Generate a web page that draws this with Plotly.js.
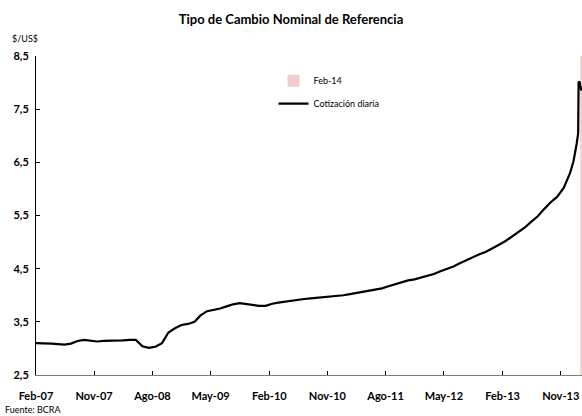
<!DOCTYPE html>
<html>
<head>
<meta charset="utf-8">
<script src="https://cdn.plot.ly/plotly-3.0.1.min.js"></script>
<style>html,body{margin:0;padding:0;background:#fff;}#chart{width:582px;height:416px;}</style>
</head>
<body>
<div id="chart"></div>
<script>
var dates = [
'2007-02-01','2007-03-15','2007-04-15','2007-05-15','2007-06-15','2007-07-15','2007-08-15','2007-09-15','2007-10-15','2007-11-15','2007-12-15',
'2008-01-15','2008-02-15','2008-03-15','2008-04-15','2008-05-15','2008-06-15','2008-07-15','2008-08-15','2008-09-15','2008-10-15','2008-11-15','2008-12-15',
'2009-01-15','2009-02-15','2009-03-15','2009-04-15','2009-05-15','2009-06-15','2009-07-15','2009-08-15','2009-09-15','2009-10-15','2009-11-15','2009-12-15',
'2010-01-15','2010-02-15','2010-03-15','2010-04-15','2010-05-15','2010-06-15','2010-07-15','2010-08-15','2010-09-15','2010-10-15','2010-11-15','2010-12-15',
'2011-01-15','2011-02-15','2011-03-15','2011-04-15','2011-05-15','2011-06-15','2011-07-15','2011-08-15','2011-09-15','2011-10-15','2011-11-15','2011-12-15',
'2012-01-15','2012-02-15','2012-03-15','2012-04-15','2012-05-15','2012-06-15','2012-07-15','2012-08-15','2012-09-15','2012-10-15','2012-11-15','2012-12-15',
'2013-01-15','2013-02-15','2013-03-15','2013-04-15','2013-05-15','2013-06-15','2013-07-15','2013-08-15','2013-09-15','2013-10-15','2013-11-15','2013-12-15',
'2013-12-31','2014-01-15','2014-01-22','2014-01-24','2014-01-28','2014-02-03','2014-02-07'
];
var cotizacion = [
3.10,3.10,3.09,3.08,3.07,3.09,3.14,3.16,3.15,3.13,3.14,
3.14,3.15,3.15,3.16,3.16,3.04,3.01,3.03,3.10,3.30,3.38,3.44,
3.46,3.50,3.62,3.70,3.72,3.75,3.79,3.83,3.85,3.83,3.81,3.80,
3.80,3.84,3.86,3.88,3.90,3.92,3.93,3.94,3.95,3.96,3.97,3.98,
4.00,4.02,4.04,4.06,4.08,4.10,4.13,4.17,4.21,4.24,4.28,4.30,
4.33,4.37,4.40,4.45,4.49,4.54,4.60,4.66,4.71,4.77,4.82,4.88,
4.95,5.02,5.10,5.18,5.27,5.38,5.48,5.62,5.75,5.85,6.02,6.30,
6.52,6.85,7.05,8.00,8.02,7.90,7.85
];
var bandDate = ['2014-02-15'];
var bandBase = [2.5];
var bandHeight = [6];
var tickDates = ['2007-02-01','2007-11-01','2008-08-01','2009-05-01','2010-02-01','2010-11-01','2011-08-01','2012-05-01','2013-02-01','2013-11-01'];
var tickLabels = ['Feb-07','Nov-07','Ago-08','May-09','Feb-10','Nov-10','Ago-11','May-12','Feb-13','Nov-13'];
var yTicks = [2.5,3.5,4.5,5.5,6.5,7.5,8.5];

var FONT = 'Lato, "Open Sans", sans-serif';
var traces = [
  {type:'bar', x:bandDate, y:bandHeight, base:bandBase, width:[28*86400000],
   marker:{color:'#f0cccc', line:{width:0}}, name:'Feb-14', legendgroup:'a', hoverinfo:'skip'},
  {type:'scatter', mode:'lines', x:dates, y:cotizacion, name:'Cotización diaria', legendgroup:'b',
   line:{color:'#000000', width:2.2}}
];
var layout = {
  width:582, height:416,
  margin:{l:36, r:0, t:56, b:41},
  paper_bgcolor:'#ffffff', plot_bgcolor:'#ffffff',
  font:{family:FONT, color:'#000'},
  title:{text:'<b>Tipo de Cambio Nominal de Referencia</b>', x:0.5, xanchor:'center', y:0.953, yanchor:'middle', font:{size:13, family:FONT}},
  showlegend:true,
  legend:{x:0.435, y:0.968, xanchor:'left', yanchor:'top', traceorder:'grouped', tracegroupgap:4,
          font:{size:9, family:FONT}, bgcolor:'rgba(0,0,0,0)', itemwidth:30},
  xaxis:{type:'date', range:['2007-02-01','2014-02-09'], tickvals:tickDates, ticktext:tickLabels,
         ticks:'inside', ticklen:4, tickcolor:'#000', showgrid:false, zeroline:false,
         showline:true, linecolor:'#7f7f7f', linewidth:1, tickangle:0, ticklabelstandoff:11,
         tickfont:{size:11, family:FONT, weight:'bold'}},
  yaxis:{range:[2.5,8.5], tickvals:yTicks, ticktext:yTicks.map(function(v){return v.toFixed(1).replace('.',',');}),
         ticks:'inside', ticklen:4, tickcolor:'#000', showgrid:false, zeroline:false,
         showline:true, linecolor:'#000', linewidth:1, ticklabelstandoff:4,
         tickfont:{size:11, family:FONT, weight:'bold'}},
  annotations:[
    {text:'$/US$', xref:'paper', yref:'paper', x:-0.048, y:1.055, xanchor:'left', yanchor:'middle', showarrow:false, font:{size:9, family:FONT}},
    {text:'Fuente: BCRA', xref:'paper', yref:'paper', x:-0.061, y:-0.108, xanchor:'left', yanchor:'middle', showarrow:false, font:{size:9, family:FONT}}
  ]
};
Plotly.newPlot('chart', traces, layout, {displayModeBar:false, staticPlot:true});
</script>
</body>
</html>
